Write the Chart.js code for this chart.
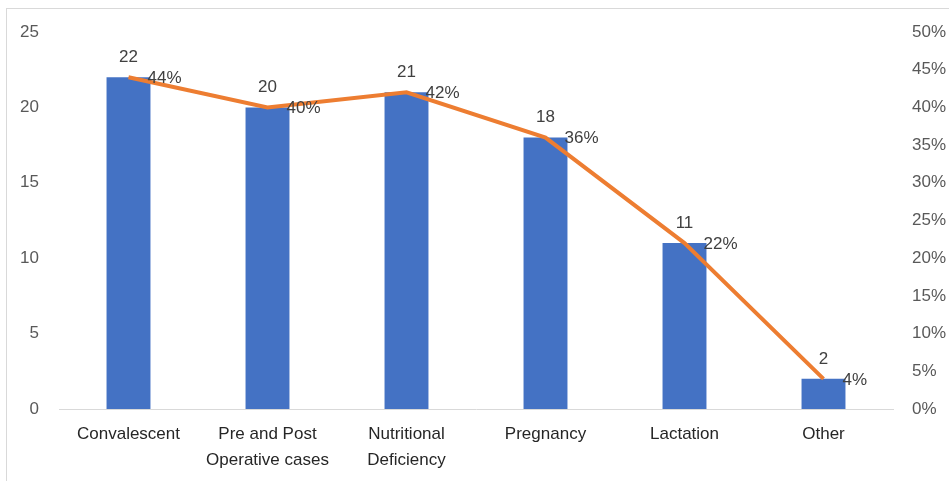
<!DOCTYPE html>
<html>
<head>
<meta charset="utf-8">
<script src="https://cdn.jsdelivr.net/npm/chart.js@4.4.1/dist/chart.umd.min.js"></script>
<style>
  html, body { margin: 0; padding: 0; background: #fff; overflow: hidden; }
  #wrap { position: relative; width: 949px; height: 481px; }
  #frame { position: absolute; left: 6px; top: 8px; width: 1200px; height: 1200px; border: 1px solid #d9d9d9; box-sizing: border-box; }
  canvas { position: absolute; left: 0; top: 0; }
</style>
</head>
<body>
<div id="wrap">
  <div id="frame"></div>
  <canvas id="c" width="949" height="481"></canvas>
</div>
<script>
const categories = ['Convalescent', ['Pre and Post', 'Operative cases'], ['Nutritional', 'Deficiency'], 'Pregnancy', 'Lactation', 'Other'];
const counts = [22, 20, 21, 18, 11, 2];
const percents = [44, 40, 42, 36, 22, 4];
const leftTicks = [0, 5, 10, 15, 20, 25];
const rightTickStep = 5;

const FONT = "'Liberation Sans', Arial, sans-serif";

const labelPlugin = {
  id: 'valueLabels',
  afterDatasetsDraw(chart) {
    const ctx = chart.ctx;
    ctx.save();
    ctx.font = '17px ' + FONT;
    ctx.fillStyle = '#404040';
    const barMeta = chart.getDatasetMeta(1);
    barMeta.data.forEach((el, i) => {
      ctx.textAlign = 'center';
      ctx.textBaseline = 'middle';
      ctx.fillText(String(counts[i]), el.x, el.y - 20);
    });
    const lineMeta = chart.getDatasetMeta(0);
    lineMeta.data.forEach((el, i) => {
      ctx.textAlign = 'left';
      ctx.textBaseline = 'middle';
      ctx.fillText(percents[i] + '%', el.x + 19, el.y + 1);
    });
    ctx.restore();
  }
};

new Chart(document.getElementById('c'), {
  data: {
    labels: categories,
    datasets: [
      {
        type: 'line',
        data: percents,
        yAxisID: 'y1',
        borderColor: '#ED7D31',
        borderWidth: 4,
        pointRadius: 0,
        tension: 0,
        order: 0
      },
      {
        type: 'bar',
        data: counts,
        yAxisID: 'y',
        backgroundColor: '#4472C4',
        categoryPercentage: 1,
        barPercentage: 0.316,
        order: 1
      }
    ]
  },
  options: {
    responsive: false,
    animation: false,
    devicePixelRatio: 1,
    layout: { padding: { top: 32, left: 0, right: 0, bottom: 0 } },
    plugins: { legend: { display: false }, tooltip: { enabled: false } },
    scales: {
      x: {
        grid: { display: false, drawTicks: false },
        border: { display: true, color: '#d9d9d9', width: 1 },
        ticks: { color: '#262626', font: { family: FONT, size: 17, lineHeight: 1.55 }, padding: 12, maxRotation: 0, autoSkip: false },
        afterFit(s) { s.height = 72; }
      },
      y: {
        position: 'left',
        min: 0, max: 25,
        afterBuildTicks(s) { s.ticks = leftTicks.map(v => ({ value: v })); },
        grid: { display: false, drawTicks: false },
        border: { display: false },
        ticks: { color: '#595959', font: { family: FONT, size: 17 }, padding: 20 },
        afterFit(s) { s.width = 59; }
      },
      y1: {
        position: 'right',
        min: 0, max: 50,
        grid: { display: false, drawTicks: false },
        border: { display: false },
        ticks: { stepSize: rightTickStep, color: '#595959', font: { family: FONT, size: 17 }, padding: 19, callback: v => v + '%' },
        afterFit(s) { s.width = 56; }
      }
    }
  },
  plugins: [labelPlugin]
});
</script>
</body>
</html>
